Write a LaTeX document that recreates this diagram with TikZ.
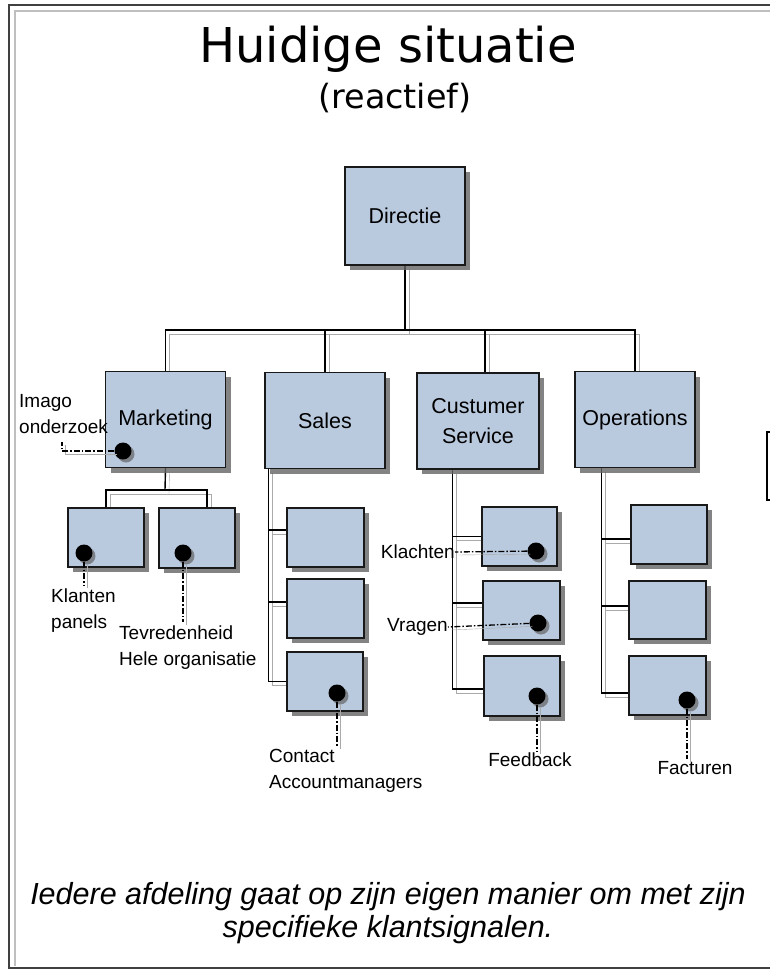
\documentclass[tikz,border=0pt]{standalone}
\usepackage{fontspec}
\setmainfont{Liberation Sans}
\newfontfamily\headfont{DejaVu Sans}
\usetikzlibrary{shadows,backgrounds}
\definecolor{boxfill}{RGB}{185,201,222}
\definecolor{shadowgray}{RGB}{100,100,100}
\definecolor{lineshade}{RGB}{170,170,170}
\tikzset{
  unit/.style={draw=black!90, line width=1.4pt, fill=boxfill, inner sep=0pt, align=center,
    font=\fontsize{21.5}{30}\selectfont,
    drop shadow={shadow xshift=5pt, shadow yshift=-5pt, fill=shadowgray, opacity=0.8}},
  topunit/.style={unit, minimum width=120pt, minimum height=96pt},
  subunit/.style={unit, minimum width=76pt, minimum height=59pt},
  conn/.style={draw=black, line width=1.4pt,
    preaction={draw=lineshade, transform canvas={xshift=4pt, yshift=-4pt}}},
  signal/.style={circle, fill=black, inner sep=0pt, minimum size=17pt,
    drop shadow={shadow xshift=3pt, shadow yshift=-3pt, fill=shadowgray, opacity=0.7}},
  sigline/.style={draw=black, line width=1.3pt, dash pattern=on 6pt off 2pt on 1.5pt off 2pt,
    preaction={draw=lineshade, transform canvas={xshift=3pt, yshift=-3pt}}},
  lbl/.style={inner sep=0pt, align=left, font=\fontsize{19}{26}\selectfont},
}
\begin{document}
\begin{tikzpicture}[x=1pt,y=-1pt]
\useasboundingbox (0,0) rectangle (770,970);

% slide frame
\draw[line width=2pt, black!75] (790,5) -- (9,5) -- (9,968) -- (790,968);
\draw[line width=2.5pt, black!25] (790,11) -- (15,11) -- (15,966);

% headings
\node[anchor=base, inner sep=0pt, font=\headfont\fontsize{48}{58}\selectfont] (title) at (388,62) {Huidige situatie};
\node[anchor=base, inner sep=0pt, font=\headfont\fontsize{33.4}{40}\selectfont] (subtitle) at (395,108) {(reactief)};

% departments
\node[topunit, minimum height=98pt] (dir) at (405,216) {Directie};
\node[topunit] (mkt) at (165.5,419.5) {Marketing};
\node[topunit] (sales) at (325,420.5) {Sales};
\node[topunit, minimum width=122pt] (cs) at (478,421) {Custumer\\Service};
\node[topunit] (ops) at (635,419.5) {Operations};

% sub units
\node[subunit] (mk1) at (106,537.5) {};
\node[subunit, minimum height=60pt] (mk2) at (197,538) {};
\node[subunit, minimum width=77pt] (s1) at (325.5,537.5) {};
\node[subunit, minimum width=77pt] (s2) at (325.5,608.5) {};
\node[subunit] (s3) at (325,681.5) {};
\node[subunit, minimum width=75pt] (c1) at (519.5,536.5) {};
\node[subunit, minimum width=77pt] (c2) at (521.5,610.5) {};
\node[subunit, minimum height=60pt] (c3) at (522,686) {};
\node[subunit] (o1) at (669,534.5) {};
\node[subunit, minimum width=77pt, minimum height=58pt] (o2) at (667.5,610) {};
\node[subunit, minimum width=77pt] (o3) at (667.5,685.5) {};

% box cut off at the right edge
\draw[line width=1.4pt, fill=white] (790,432) -- (767,432) -- (767,500) -- (790,500);

% reporting lines
\begin{scope}[on background layer]
  \coordinate (topbus) at (405,330);
  \draw[conn] (dir.south) -- (topbus);
  \draw[conn] (mkt.north) -- (mkt.north |- topbus) -- (ops.north |- topbus) -- (ops.north);
  \draw[conn] (sales.north) -- (sales.north |- topbus);
  \draw[conn] ([xshift=7pt]cs.north) -- ([xshift=7pt]cs.north |- topbus);

  \coordinate (mbus) at (165,490);
  \draw[conn] (mkt.south) -- (mbus);
  \draw[conn] (mk1.north) -- (mk1.north |- mbus) -- ([xshift=10pt]mk2.north |- mbus) -- ([xshift=10pt]mk2.north);

  \coordinate (sv) at ([xshift=4pt]sales.south west);
  \draw[conn] (sv) |- (s3.west);
  \draw[conn] ([yshift=7.5pt]s1.west) -- ++(-18pt,0);
  \draw[conn] ([yshift=6.5pt]s2.west) -- ++(-18pt,0);

  \coordinate (cv) at ([xshift=36pt]cs.south west);
  \draw[conn] (cv) |- ([yshift=-3pt]c3.west);
  \draw[conn] (c1.west) -- ++(-29pt,0);
  \draw[conn] ([yshift=7.5pt]c2.west) -- ++(-30pt,0);

  \coordinate (ov) at ([xshift=27pt]ops.south west);
  \draw[conn] (ov) |- ([yshift=-7.5pt]o3.west);
  \draw[conn] ([yshift=-4.5pt]o1.west) -- ++(-29pt,0);
  \draw[conn] ([yshift=4pt]o2.west) -- ++(-27pt,0);
\end{scope}

% customer signals
\node[signal] (md) at (123,451) {};
\node[signal] (k1d) at (84,553) {};
\node[signal] (k2d) at (183,553) {};
\node[signal] (s3d) at (337,693) {};
\node[signal] (c1d) at (536,551) {};
\node[signal] (c2d) at (538,623) {};
\node[signal] (c3d) at (537,696) {};
\node[signal] (o3d) at (687,700) {};

\node[lbl, anchor=west] (imago) at (19,414) {Imago\\onderzoek};
\node[lbl, anchor=west] (klanten) at (51,611) {Klanten\\panels};
\node[lbl, anchor=west] (tevr) at (119,648) {Tevredenheid\\Hele organisatie};
\node[lbl, anchor=west] (contact) at (269,771) {Contact\\Accountmanagers};
\node[lbl, anchor=east] (klachten) at (455,552) {Klachten};
\node[lbl, anchor=east] (vragen) at (448,627) {Vragen};
\node[lbl] (feedback) at (530,760) {Feedback};
\node[lbl] (facturen) at (695,768) {Facturen};

\coordinate (mturn) at (62,451);
\draw[sigline] (md) -- (mturn) -- (62,442);
\draw[sigline] (k1d) -- ([yshift=4pt]k1d |- klanten.north);
\draw[sigline] (k2d) -- ([yshift=4pt]k2d |- tevr.north);
\draw[sigline] (s3d) -- ([yshift=3pt]s3d |- contact.north);
\draw[sigline] (c1d) -- (klachten.east);
\draw[sigline] (c2d) -- (vragen.east);
\draw[sigline] (c3d) -- ([yshift=2pt]c3d |- feedback.north);
\draw[sigline] (o3d) -- ([yshift=2pt]o3d |- facturen.north);

% conclusion
\node[align=center, inner sep=0pt, font=\itshape\fontsize{30.5}{33}\selectfont] (concl) at (388,913)
  {Iedere afdeling gaat op zijn eigen manier om met zijn\\specifieke klantsignalen.};
\end{tikzpicture}
\end{document}
